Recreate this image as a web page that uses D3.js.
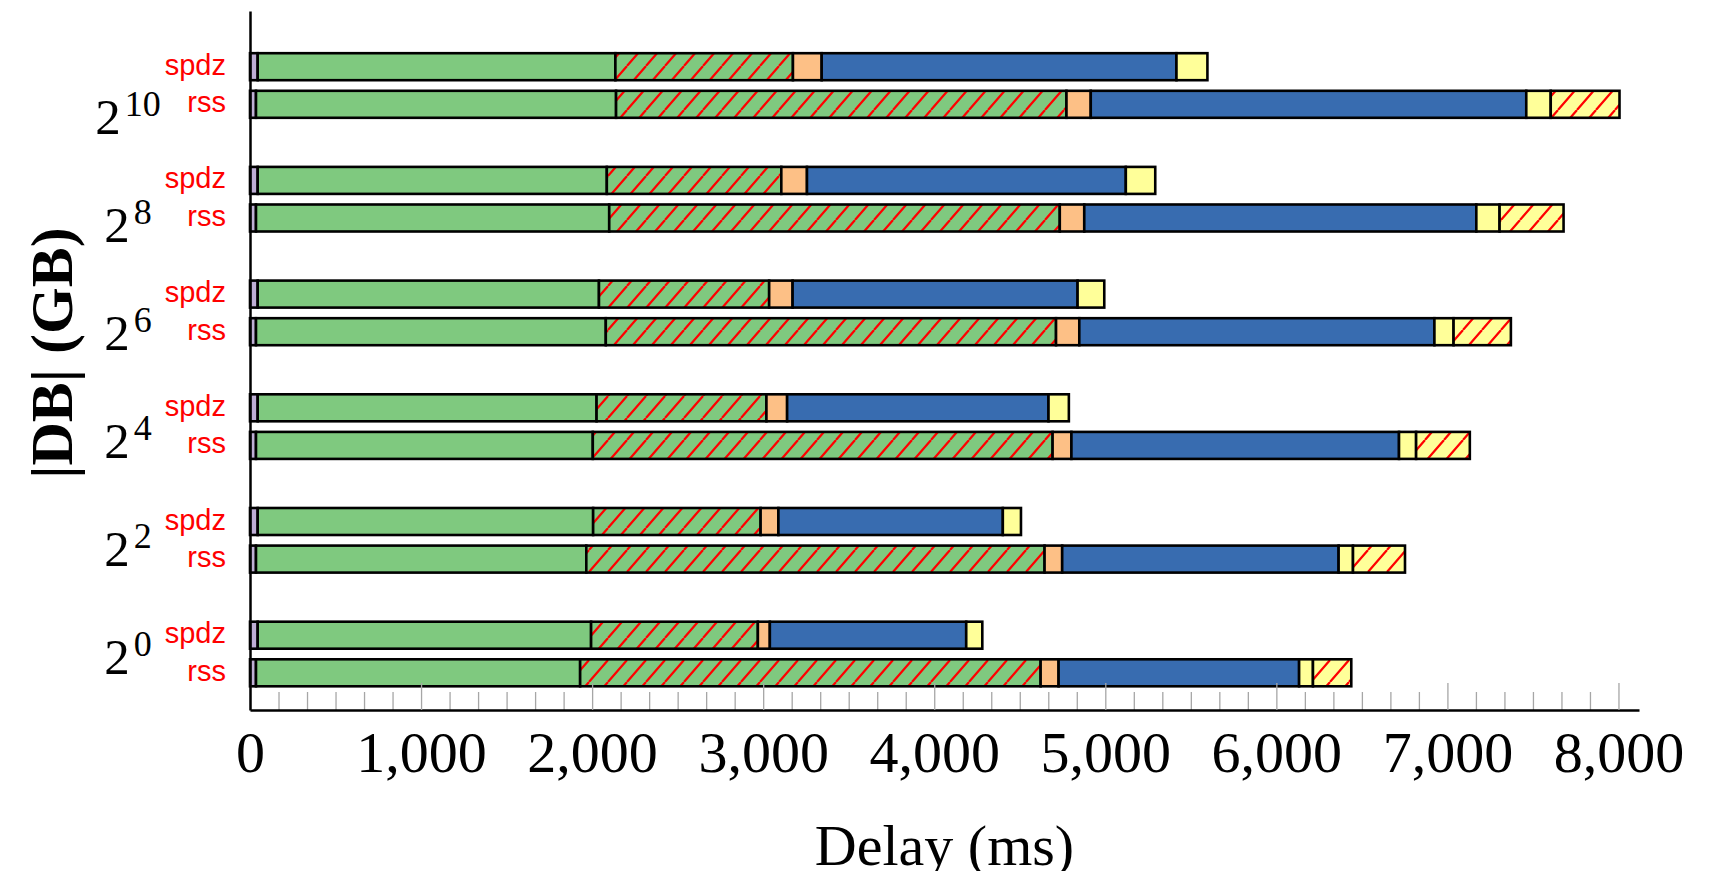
<!DOCTYPE html>
<html>
<head>
<meta charset="utf-8">
<script src="https://cdn.jsdelivr.net/npm/d3@7"></script>
<style>
  body { margin: 0; background: #fff; }
  svg { display: block; }
</style>
</head>
<body>
<div id="chart"></div>
<script>
// |DB| sizes (exponent of 2), top to bottom
var sizes = ["10", "8", "6", "4", "2", "0"];
var protocols = ["spdz", "rss"];
var xTickValues = [0, 1000, 2000, 3000, 4000, 5000, 6000, 7000, 8000];

// phase durations in ms, one value per size (2^10 ... 2^0)
var spdzPurple     = [45, 45, 45, 45, 45, 45];
var spdzGreen      = [2091, 2041, 1995, 1981, 1961, 1949];
var spdzGreenHatch = [1038, 1020, 995, 993, 979, 975];
var spdzOrange     = [168, 150, 137, 121, 104, 70];
var spdzBlue       = [2074, 1864, 1666, 1528, 1312, 1148];
var spdzYellow     = [181, 172, 156, 119, 106, 94];

var rssPurple      = [35, 35, 35, 35, 35, 35];
var rssGreen       = [2105, 2065, 2045, 1969, 1931, 1895];
var rssGreenHatch  = [2633, 2634, 2632, 2688, 2679, 2692];
var rssOrange      = [142, 143, 136, 110, 103, 105];
var rssBlue        = [2546, 2292, 2076, 1915, 1616, 1406];
var rssYellow      = [143, 136, 112, 100, 84, 81];
var rssYellowHatch = [402, 374, 335, 314, 304, 224];

var segKeys = ["purple", "green", "greenHatch", "orange", "blue", "yellow", "yellowHatch"];

var series = {
    spdz: {purple: spdzPurple, green: spdzGreen, greenHatch: spdzGreenHatch,
           orange: spdzOrange, blue: spdzBlue, yellow: spdzYellow},
    rss:  {purple: rssPurple, green: rssGreen, greenHatch: rssGreenHatch,
           orange: rssOrange, blue: rssBlue, yellow: rssYellow, yellowHatch: rssYellowHatch}
};

var width = 1733, height = 871;
var plot = {left: 250, right: 1639, top: 11, bottom: 710};

var fills = {
    purple: "#beaed4", green: "#7fc97f", greenHatch: "url(#hatchGreen)",
    orange: "#fdc086", blue: "#386cb0", yellow: "#ffff99", yellowHatch: "url(#hatchYellow)"
};

var svg = d3.select("#chart").append("svg")
    .attr("width", width)
    .attr("height", height);

// hatch patterns (north east lines)
var defs = svg.append("defs");
[["hatchGreen", "#7fc97f"], ["hatchYellow", "#ffff99"]].forEach(function(p) {
    var w = 19, h = 22;
    var pat = defs.append("pattern")
        .attr("id", p[0])
        .attr("patternUnits", "userSpaceOnUse")
        .attr("width", w).attr("height", h);
    pat.append("rect").attr("width", w).attr("height", h).attr("fill", p[1]);
    pat.append("path")
        .attr("d", "M0," + h + "L" + w + ",0" +
                   "M" + (-w) + "," + h + "L0,0" +
                   "M" + w + "," + h + "L" + 2 * w + ",0")
        .attr("stroke", "#ff0000")
        .attr("stroke-width", 2.2);
});

var x = d3.scaleLinear()
    .domain([0, 8120])
    .range([plot.left, plot.right]);

var yGroup = d3.scalePoint()
    .domain(sizes)
    .range([85.5, 654]);

// tick labels sit on a slightly tighter spacing than the bar groups
var yLabel = d3.scalePoint()
    .domain(sizes)
    .range([133.5, 674]);

var barOffset = {spdz: -18.8, rss: 18.8};
var barH = 27;

var stack = d3.stack().keys(segKeys);

protocols.forEach(function(proto) {
    var rows = sizes.map(function(s, i) {
        var r = {size: s};
        segKeys.forEach(function(k) {
            r[k] = series[proto][k] ? series[proto][k][i] : 0;
        });
        return r;
    });
    var layers = stack(rows);
    var g = svg.append("g").attr("class", "bars " + proto);
    layers.forEach(function(layer) {
        g.selectAll(null)
            .data(layer.filter(function(d) { return d[1] - d[0] > 0; }))
            .join("rect")
            .attr("x", function(d) { return x(d[0]); })
            .attr("width", function(d) { return x(d[1]) - x(d[0]); })
            .attr("y", function(d) { return yGroup(d.data.size) + barOffset[proto] - barH / 2; })
            .attr("height", barH)
            .attr("fill", fills[layer.key])
            .attr("stroke", "#000")
            .attr("stroke-width", 2.6);
    });

    // protocol labels
    svg.append("g").selectAll("text")
        .data(sizes)
        .join("text")
        .attr("x", 226)
        .attr("y", function(d) { return yGroup(d) + barOffset[proto] + 8; })
        .attr("text-anchor", "end")
        .style("font-family", "'Liberation Sans', Arial, sans-serif")
        .style("font-size", "29px")
        .style("fill", "#ff0000")
        .text(proto);
});

// minor ticks: 5 between majors
var minorTicks = [];
for (var i = 0; i < xTickValues.length - 1; i++) {
    for (var k = 1; k < 6; k++) {
        minorTicks.push(xTickValues[i] + (xTickValues[i + 1] - xTickValues[i]) * k / 6);
    }
}

var xMinor = svg.append("g")
    .attr("transform", "translate(0," + plot.bottom + ")")
    .call(d3.axisBottom(x).tickValues(minorTicks).tickSizeInner(-18).tickSizeOuter(0).tickFormat(""));
xMinor.select(".domain").remove();
xMinor.selectAll(".tick line").attr("stroke", "#a6a6a6").attr("stroke-width", 1.3);

var xAxis = svg.append("g")
    .attr("transform", "translate(0," + plot.bottom + ")")
    .call(d3.axisBottom(x).tickValues(xTickValues).tickSizeInner(-27).tickSizeOuter(0)
        .tickPadding(21).tickFormat(d3.format(",")));
xAxis.select(".domain").attr("stroke", "#000").attr("stroke-width", 2.5);
xAxis.selectAll(".tick line").attr("stroke", "#a6a6a6").attr("stroke-width", 1.3);
xAxis.selectAll(".tick text")
    .style("font-family", "'Liberation Serif', 'Times New Roman', serif")
    .style("font-size", "58px")
    .attr("fill", "#000");

var yFrame = d3.scaleLinear().domain([0, 1]).range([plot.bottom, plot.top]);
var yAxis = svg.append("g")
    .attr("transform", "translate(" + plot.left + ",0)")
    .call(d3.axisLeft(yFrame).tickValues([]).tickSizeOuter(0));
yAxis.select(".domain").attr("stroke", "#000").attr("stroke-width", 2.5);

// size labels 2^k
var lab = svg.append("g").selectAll("text")
    .data(sizes)
    .join("text")
    .attr("x", 128)
    .attr("y", function(d) { return yLabel(d); })
    .attr("text-anchor", "middle")
    .style("font-family", "'Liberation Serif', 'Times New Roman', serif")
    .style("fill", "#000");
lab.append("tspan").style("font-size", "51px").text("2");
lab.append("tspan")
    .attr("dx", 4)
    .attr("dy", -18)
    .style("font-size", "36px")
    .text(function(d) { return d; });

// axis titles
svg.append("text")
    .attr("x", (plot.left + plot.right) / 2)
    .attr("y", 865)
    .attr("text-anchor", "middle")
    .style("font-family", "'Liberation Serif', 'Times New Roman', serif")
    .style("font-size", "58px")
    .text("Delay (ms)");

svg.append("text")
    .attr("transform", "translate(72,353) rotate(-90)")
    .attr("text-anchor", "middle")
    .style("font-family", "'Liberation Serif', 'Times New Roman', serif")
    .style("font-weight", "bold")
    .style("font-size", "60px")
    .text("|DB| (GB)");
</script>
</body>
</html>
